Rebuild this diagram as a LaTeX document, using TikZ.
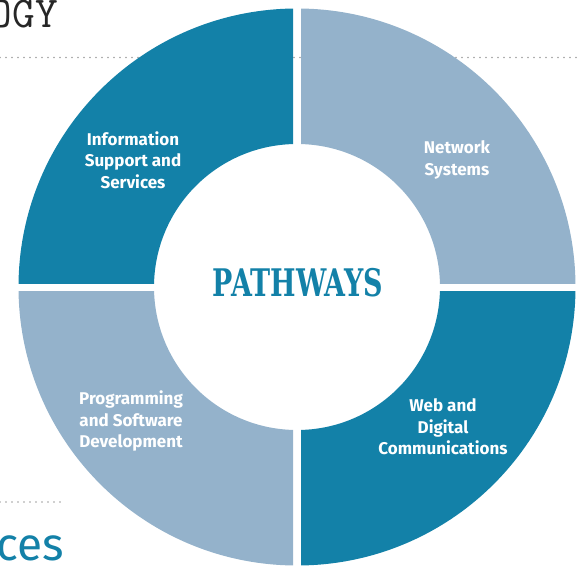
\documentclass[tikz,border=0pt]{standalone}
\usepackage{fontspec}
\setmainfont{Fira Sans}
\newfontfamily\slabfont{DejaVu Serif}
\definecolor{pathteal}{HTML}{1381A8}
\definecolor{pathsky}{HTML}{94B2CB}
\tikzset{
  quadlabel/.style={align=center, text=white, font=\bfseries\fontsize{17}{21.5}\selectfont},
  dotrule/.style={gray!75, line width=1.6pt, line cap=round, dash pattern=on 0pt off 6pt}
}

\begin{document}
\begin{tikzpicture}[x=1pt, y=-1pt]
    \useasboundingbox (0,0) rectangle (581,567);

    % --- dotted page rules (behind the ring) ---
    \draw[dotrule] (0,57.5) -- (581,57.5);
    \draw[dotrule] (0,502) -- (65,502);

    % --- cut-off page words ---
    \node[anchor=base east, inner sep=0, text=black!85, font=\ttfamily\fontsize{44}{44}\selectfont] (topword) at (58,28) {OGY};
    \node[anchor=base east, inner sep=0, text=pathteal, font=\fontsize{46}{46}\selectfont] (botword) at (64,560) {ces};

    % --- the ring, four quarters with gaps ---
    \coordinate (ctr) at (297,287);
    \begin{scope}
      \clip (0,0) rectangle (293,283);
      \fill[pathteal, even odd rule] (ctr) circle (278.5pt) (ctr) circle (143pt);
    \end{scope}
    \begin{scope}
      \clip (301,0) rectangle (581,283);
      \fill[pathsky, even odd rule] (ctr) circle (278.5pt) (ctr) circle (143pt);
    \end{scope}
    \begin{scope}
      \clip (0,291) rectangle (293,567);
      \fill[pathsky, even odd rule] (ctr) circle (278.5pt) (ctr) circle (143pt);
    \end{scope}
    \begin{scope}
      \clip (301,291) rectangle (581,567);
      \fill[pathteal, even odd rule] (ctr) circle (278.5pt) (ctr) circle (143pt);
    \end{scope}

    % --- labels ---
    \node[quadlabel] (info) at (133,160) {Information\\Support and\\Services};
    \node[quadlabel] (network) at (457,160) {Network\\Systems};
    \node[quadlabel] (program) at (131,421) {Programming\\and Software\\Development};
    \node[quadlabel] (web) at (443,427) {Web and\\Digital\\Communications};

    \node[text=pathteal, font=\slabfont\bfseries\fontsize{38}{38}\selectfont] (pathways) at (298,283) {\scalebox{0.71}[1]{PATHWAYS}};

\end{tikzpicture}
\end{document}
